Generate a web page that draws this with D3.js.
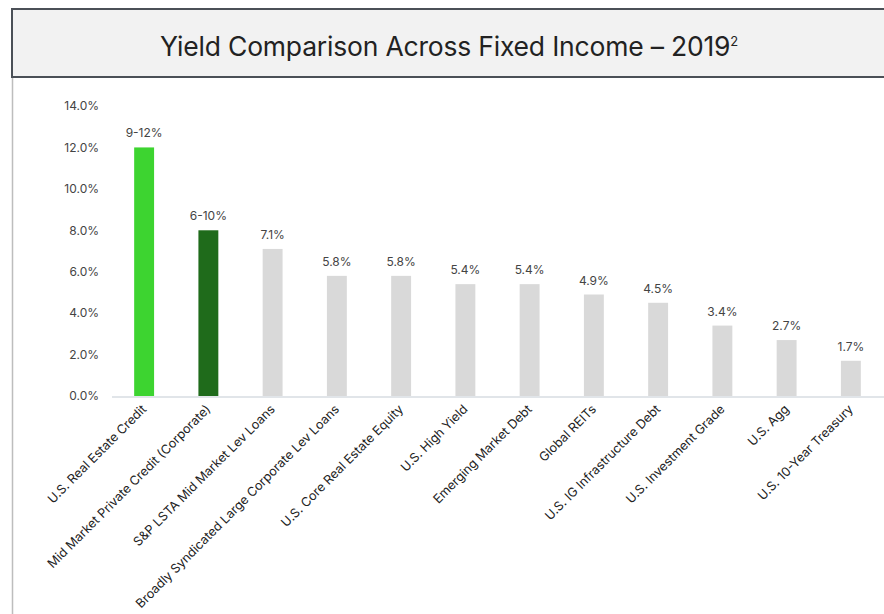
<!DOCTYPE html>
<html>
<head>
<meta charset="utf-8">
<script src="https://cdn.jsdelivr.net/npm/d3@7/dist/d3.min.js"></script>
<style>
  html, body { margin: 0; padding: 0; background: #fff; }
  svg { display: block; font-family: Inter, "Noto Sans", sans-serif; }
</style>
</head>
<body>
<svg id="chart" width="884" height="614"></svg>
<script>
// Yield comparison across fixed income asset classes, 2019
const categories = [
  "U.S. Real Estate Credit",
  "Mid Market Private Credit (Corporate)",
  "S&P LSTA Mid Market Lev Loans",
  "Broadly Syndicated Large Corporate Lev Loans",
  "U.S. Core Real Estate Equity",
  "U.S. High Yield",
  "Emerging Market Debt",
  "Global REITs",
  "U.S. IG Infrastructure Debt",
  "U.S. Investment Grade",
  "U.S. Agg",
  "U.S. 10-Year Treasury"
];
const yields = [12.0, 8.0, 7.1, 5.8, 5.8, 5.4, 5.4, 4.9, 4.5, 3.4, 2.7, 1.7];
const valueLabels = ["9-12%", "6-10%", "7.1%", "5.8%", "5.8%", "5.4%", "5.4%", "4.9%", "4.5%", "3.4%", "2.7%", "1.7%"];
const barColors = ["#3dd430", "#1f6b1b", "#d9d9d9", "#d9d9d9", "#d9d9d9", "#d9d9d9",
                   "#d9d9d9", "#d9d9d9", "#d9d9d9", "#d9d9d9", "#d9d9d9", "#d9d9d9"];
const yTicks = [0, 2, 4, 6, 8, 10, 12, 14];

const svg = d3.select("#chart");

// Title panel
svg.append("line")
  .attr("x1", 12.5).attr("x2", 12.5).attr("y1", 78).attr("y2", 614)
  .attr("stroke", "#bdbdbd").attr("stroke-width", 1.5);
svg.append("rect")
  .attr("x", 12).attr("y", 9).attr("width", 880).attr("height", 68)
  .attr("fill", "#f2f2f2").attr("stroke", "#4b5057").attr("stroke-width", 2);
const title = svg.append("text")
  .attr("x", 449).attr("y", 56)
  .attr("text-anchor", "middle")
  .attr("fill", "#222")
  .style("font-size", "26.5px")
  .style("letter-spacing", "-0.2px");
title.append("tspan").text("Yield Comparison Across Fixed Income \u2013 2019");
title.append("tspan").attr("dy", -10).style("font-size", "13px").text("2");

// Scales
const x = d3.scaleBand().domain(categories).range([112, 883]).paddingInner(0.69).paddingOuter(0.345);
const y = d3.scaleLinear().domain([0, 14]).range([396, 106]);

// Y axis labels
const yAxis = d3.axisLeft(y).tickValues(yTicks).tickFormat(d => d.toFixed(1) + "%").tickSize(0).tickPadding(0);
const gy = svg.append("g").attr("transform", "translate(99,0)").call(yAxis);
gy.select(".domain").remove();
gy.selectAll("text").attr("fill", "#444").style("font-size", "12px").style("font-family", "Inter, 'Noto Sans', sans-serif");

// Bars
svg.append("g").selectAll("rect")
  .data(yields)
  .join("rect")
  .attr("x", (d, i) => x(categories[i]))
  .attr("width", x.bandwidth())
  .attr("y", d => y(d))
  .attr("height", d => y(0) - y(d))
  .attr("fill", (d, i) => barColors[i]);

// Value labels
svg.append("g").selectAll("text")
  .data(yields)
  .join("text")
  .attr("x", (d, i) => x(categories[i]) + x.bandwidth() / 2)
  .attr("y", d => y(d) - 10)
  .attr("text-anchor", "middle")
  .attr("fill", "#444")
  .style("font-size", "12px")
  .text((d, i) => valueLabels[i]);

// Baseline
svg.append("line")
  .attr("x1", 112).attr("x2", 884).attr("y1", y(0) + 1).attr("y2", y(0) + 1)
  .attr("stroke", "#e1e5e9").attr("stroke-width", 2);

// Category labels, rotated
const xAxis = d3.axisBottom(x).tickSize(0).tickPadding(0);
const gx = svg.append("g").attr("transform", `translate(0,${y(0)})`).call(xAxis);
gx.select(".domain").remove();
gx.selectAll("text")
  .attr("text-anchor", "end")
  .attr("fill", "#222")
  .attr("dy", 0)
  .attr("transform", "translate(3,14) rotate(-45)")
  .style("font-size", "12.6px")
  .style("font-family", "Inter, 'Noto Sans', sans-serif");
</script>
</body>
</html>
